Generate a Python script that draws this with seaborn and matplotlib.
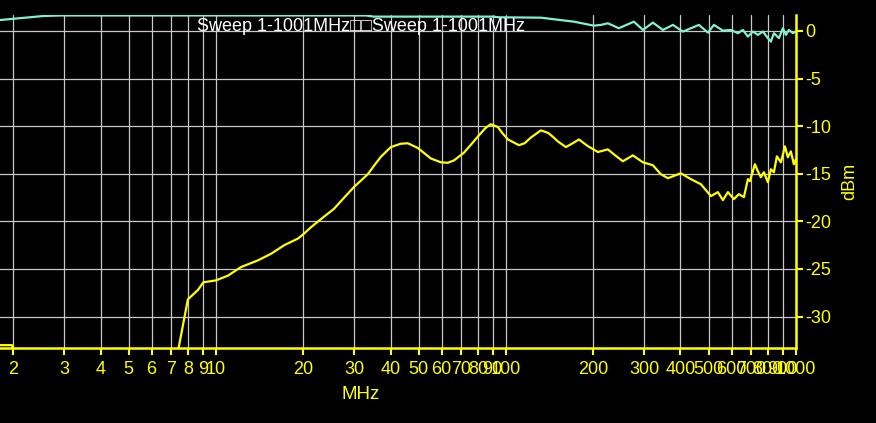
import matplotlib
matplotlib.use("Agg")
import matplotlib.pyplot as plt
import seaborn as sns
import numpy as np
import pandas as pd
from matplotlib.ticker import FixedLocator, FixedFormatter, NullLocator

# ---- data ----
yellow_freq = [1.0, 1.98, 2.1, 7.15, 8.0, 8.67, 9.05, 10.0, 11.0, 12.2, 13.95, 15.5, 17.2,
               19.2, 20.1, 21.3, 23.6, 25.5, 27.5, 29.9, 33.4, 35.0, 37.1, 40.1, 43.4, 45.9,
               49.7, 55.1, 59.7, 63.0, 66.2, 71.6, 76.0, 80.0, 85.0, 88.7, 93.8, 97.0, 101.6,
               110.9, 116.0, 121.9, 132, 139.6, 145.0, 151, 161, 170.0, 178.5, 191.7, 207.6,
               224.7, 235.7, 253.1, 274.1, 296.8, 321.3, 342.3, 362, 401.2, 434.5, 470.4,
               509.3, 538.3, 560.2, 582.9, 611.3, 636, 661.8, 683.2, 694.1, 722.2, 739.6,
               757.4, 775.6, 800.7, 820, 840, 860, 888, 917, 938, 961, 984, 1000]
yellow_dbm = [-33.0, -33.0, -36.0, -36.0, -28.2, -27.2, -26.4, -26.2, -25.7, -24.8, -24.1,
              -23.4, -22.5, -21.8, -21.3, -20.6, -19.5, -18.7, -17.6, -16.4, -15.05, -14.2,
              -13.2, -12.2, -11.85, -11.8, -12.3, -13.4, -13.8, -13.85, -13.6, -12.8, -11.9,
              -11.1, -10.2, -9.8, -10.1, -10.7, -11.4, -12.0, -11.8, -11.2, -10.45, -10.7,
              -11.1, -11.6, -12.2, -11.8, -11.4, -12.1, -12.72, -12.44, -12.96, -13.69,
              -13.07, -13.8, -14.11, -15.05, -15.47, -14.95, -15.57, -16.1, -17.35, -16.93,
              -17.77, -16.93, -17.66, -17.14, -17.46, -15.57, -15.78, -14.0, -14.74, -15.37,
              -14.84, -15.89, -14.53, -14.84, -13.17, -13.8, -12.12, -13.27, -12.65, -14.0,
              -13.48]

cyan_freq = [1.0, 1.814, 2.55, 2.92, 33, 35, 90, 95, 132, 171.6, 201, 212.6, 224.7, 245,
             276.3, 296.8, 321.3, 347.9, 376.6, 407.8, 463, 497.4, 521.6, 560.2, 596.9, 631,
             656.6, 683.2, 710.9, 739.6, 769.6, 800.7, 820, 840, 874, 902, 924, 946, 977, 1000]
cyan_dbm = [0.85, 1.15, 1.57, 1.62, 1.62, 1.5, 1.5, 1.43, 1.39, 0.97, 0.55, 0.63, 0.8, 0.28,
            0.97, 0.1, 0.87, 0.1, 0.63, -0.07, 0.63, -0.18, 0.63, 0.03, 0.1, -0.24, 0.1,
            -0.6, -0.07, -0.42, -0.07, -0.76, -1.12, -0.24, -0.76, 0.28, -0.42, 0.1, -0.24,
            -0.07]

x_ticks = [2, 3, 4, 5, 6, 7, 8, 9, 10, 20, 30, 40, 50, 60, 70, 80, 90,
           100, 200, 300, 400, 500, 600, 700, 800, 900, 1000]
x_tick_labels = [str(t) for t in x_ticks]
y_ticks = [0, -5, -10, -15, -20, -25, -30]
y_tick_labels = ["0", "-5", "-10", "-15", "-20", "-25", "-30"]
title_text = "Sweep 1-1001MHz\u25a1\u25a1Sweep 1-1001MHz"

sns.set_style("dark")
plt.rcParams["font.family"] = ["Liberation Sans", "DejaVu Sans"]
plt.rcParams["axes.unicode_minus"] = False

YELLOW = "#ffff00"
CYAN = "#80f0d0"
GRID = "#c8c8c8"

fig = plt.figure(figsize=(8.76, 4.23), dpi=100, facecolor="black")
ax = fig.add_axes([-74 / 876, 75 / 423, 870 / 876, 333 / 423])
ax.set_facecolor("black")

df_y = pd.DataFrame({"freq": yellow_freq, "dbm": yellow_dbm})
df_c = pd.DataFrame({"freq": cyan_freq, "dbm": cyan_dbm})
sns.lineplot(data=df_c, x="freq", y="dbm", ax=ax, color=CYAN, lw=1.6,
             estimator=None, sort=False)
sns.lineplot(data=df_y, x="freq", y="dbm", ax=ax, color=YELLOW, lw=1.6,
             estimator=None, sort=False)

ax.set_xscale("log")
ax.set_xlim(1, 1001)
ax.set_ylim(-33.3, 1.67)

ax.xaxis.set_major_locator(FixedLocator(x_ticks))
ax.xaxis.set_major_formatter(FixedFormatter(x_tick_labels))
ax.xaxis.set_minor_locator(NullLocator())
ax.set_yticks(y_ticks)
ax.set_yticklabels(y_tick_labels)

ax.yaxis.tick_right()
ax.yaxis.set_label_position("right")

ax.grid(True, color=GRID, lw=0.9)
ax.set_axisbelow(True)

for s in ["left", "top"]:
    ax.spines[s].set_visible(False)
for s in ["right", "bottom"]:
    ax.spines[s].set_visible(True)
    ax.spines[s].set_color(YELLOW)
    ax.spines[s].set_linewidth(1.8)

ax.tick_params(axis="x", which="major", colors=YELLOW, labelcolor=YELLOW,
               direction="out", length=5, width=1.5, pad=4, labelsize=13,
               bottom=True)
ax.tick_params(axis="y", which="major", colors=YELLOW, labelcolor=YELLOW,
               direction="out", length=5, width=1.5, pad=2, labelsize=13,
               right=True, left=False)

ax.set_xlabel("MHz", color=YELLOW, fontsize=13.5, labelpad=6)
ax.set_ylabel("dBm", color=YELLOW, fontsize=13, labelpad=7)

ax.text(0.5, 0.965, title_text, transform=ax.transAxes, ha="center", va="center",
        color="white", fontsize=13)

fig.savefig("out.png", dpi=100, facecolor="black")
